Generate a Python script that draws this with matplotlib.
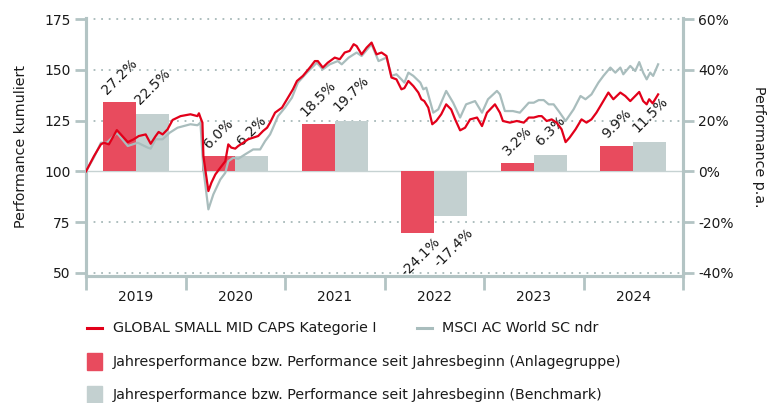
import matplotlib
matplotlib.use("Agg")
import matplotlib.pyplot as plt
from matplotlib.lines import Line2D
from matplotlib.patches import Rectangle
import numpy as np

# ---------------- data ----------------
years = [2019, 2020, 2021, 2022, 2023, 2024]
year_labels = ["2019", "2020", "2021", "2022", "2023", "2024"]
fund_annual = [27.2, 6.0, 18.5, -24.1, 3.2, 9.9]
bench_annual = [22.5, 6.2, 19.7, -17.4, 6.3, 11.5]

fund_t = [2019.00, 2019.08, 2019.15, 2019.18, 2019.23, 2019.31, 2019.35, 2019.42, 2019.48,
          2019.53, 2019.60, 2019.65, 2019.70, 2019.73, 2019.77, 2019.82, 2019.87, 2019.95,
          2020.05, 2020.12, 2020.135, 2020.15, 2020.17, 2020.18, 2020.23, 2020.26, 2020.30,
          2020.35, 2020.40, 2020.43, 2020.46, 2020.50, 2020.53, 2020.58, 2020.63, 2020.68,
          2020.73, 2020.78, 2020.82, 2020.85, 2020.90, 2020.97, 2021.03, 2021.08, 2021.12,
          2021.18, 2021.25, 2021.30, 2021.33, 2021.38, 2021.43, 2021.50, 2021.55, 2021.60,
          2021.65, 2021.69, 2021.72, 2021.77, 2021.82, 2021.87, 2021.92, 2021.97, 2022.02,
          2022.07, 2022.12, 2022.17, 2022.20, 2022.24, 2022.29, 2022.34, 2022.37, 2022.40,
          2022.44, 2022.48, 2022.52, 2022.57, 2022.62, 2022.67, 2022.71, 2022.76, 2022.81,
          2022.86, 2022.93, 2022.98, 2023.03, 2023.11, 2023.16, 2023.19, 2023.26, 2023.33,
          2023.40, 2023.45, 2023.50, 2023.55, 2023.58, 2023.63, 2023.68, 2023.73, 2023.78,
          2023.82, 2023.86, 2023.92, 2023.98, 2024.03, 2024.08, 2024.13, 2024.18, 2024.25,
          2024.30, 2024.37, 2024.42, 2024.47, 2024.52, 2024.56, 2024.60, 2024.635, 2024.66,
          2024.695, 2024.75]
fund_v = [100.0, 107.5, 113.3, 114.1, 113.3, 120.3, 118.2, 114.4, 115.8,
          117.4, 118.2, 113.6, 117.4, 119.4, 118.2, 120.7, 125.3, 127.2,
          128.1, 127.2, 128.6, 126.5, 124.0, 107.5, 90.3, 94.4, 98.5,
          101.8, 105.0, 113.3, 111.7, 111.2, 112.5, 114.1, 115.8, 116.6,
          117.4, 119.9, 121.5, 124.0, 128.9, 131.4, 136.3, 140.4, 144.5,
          147.0, 151.1, 154.3, 154.3, 151.1, 153.5, 156.0, 155.2, 158.5,
          159.3, 162.6, 161.7, 157.6, 160.9, 163.4, 157.6, 158.5, 156.8,
          146.2, 145.3, 140.4, 141.0, 144.5, 142.0, 138.8, 135.5, 134.6,
          131.4, 123.2, 124.8, 128.1, 133.0, 130.5, 125.6, 120.2, 121.5,
          125.6, 126.5, 122.3, 128.9, 133.0, 128.9, 124.8, 124.0, 124.8,
          124.0, 126.5, 126.5, 127.2, 127.2, 124.8, 125.6, 124.0, 120.7,
          114.4, 116.6, 120.7, 125.6, 124.0, 125.6, 128.9, 133.0, 138.8,
          135.5, 138.8, 137.1, 134.6, 137.1, 139.1, 134.6, 133.0, 135.5,
          133.5, 137.9]

bench_t = [2019.00, 2019.08, 2019.15, 2019.21, 2019.31, 2019.42, 2019.52, 2019.62, 2019.65,
           2019.70, 2019.77, 2019.84, 2019.92, 2020.05, 2020.12, 2020.15, 2020.18, 2020.23,
           2020.28, 2020.35, 2020.40, 2020.43, 2020.48, 2020.53, 2020.60, 2020.68, 2020.75,
           2020.80, 2020.85, 2020.88, 2020.93, 2021.00, 2021.07, 2021.13, 2021.22, 2021.32,
           2021.38, 2021.45, 2021.53, 2021.57, 2021.64, 2021.72, 2021.77, 2021.87, 2021.94,
           2022.02, 2022.07, 2022.12, 2022.17, 2022.20, 2022.24, 2022.29, 2022.36, 2022.39,
           2022.42, 2022.49, 2022.54, 2022.62, 2022.69, 2022.76, 2022.82, 2022.91, 2022.98,
           2023.04, 2023.13, 2023.16, 2023.21, 2023.29, 2023.36, 2023.45, 2023.50, 2023.55,
           2023.60, 2023.65, 2023.70, 2023.75, 2023.82, 2023.90, 2023.97, 2024.02, 2024.08,
           2024.15, 2024.20, 2024.27, 2024.32, 2024.37, 2024.40, 2024.47, 2024.52, 2024.56,
           2024.60, 2024.635, 2024.67, 2024.70, 2024.75]
bench_v = [100.0, 106.9, 114.1, 114.1, 119.0, 112.5, 114.1, 111.7, 111.2,
           115.8, 115.8, 119.0, 121.5, 123.2, 122.7, 124.0, 101.0, 81.3,
           88.7, 96.0, 99.3, 105.0, 106.7, 106.2, 108.4, 110.8, 110.8,
           114.9, 118.2, 121.5, 127.2, 131.4, 136.3, 143.7, 148.6, 153.5,
           150.2, 152.7, 154.3, 152.7, 156.0, 158.5, 156.8, 162.6, 154.3,
           156.0, 147.0, 147.8, 145.3, 143.7, 148.6, 147.0, 143.7, 140.4,
           141.2, 128.9, 130.5, 139.6, 133.8, 126.5, 133.0, 134.6, 128.9,
           135.5, 139.6, 137.9, 129.7, 129.7, 128.9, 133.8, 133.8, 135.1,
           135.1, 133.0, 133.0, 129.7, 124.8, 130.5, 137.1, 135.5, 137.9,
           143.7, 147.0, 151.1, 148.6, 151.1, 147.8, 151.9, 149.4, 153.8,
           148.6, 145.3, 148.6, 147.0, 152.7]

# ---------------- style ----------------
RED_LINE = "#e2001a"
RED_BAR = "#e84b5e"
GREY_LINE = "#a9bdbd"
GREY_BAR = "#c3d0d0"
AXIS_GREY = "#b3c4c4"
TXT = "#1a1a1a"
plt.rcParams["font.family"] = ["DejaVu Sans"]
FS_LBL = 10
FS_TICK = 10
FS_LEG = 10.3

fig = plt.figure(figsize=(7.78, 4.03), dpi=100)
ax = fig.add_axes([86/778, 1-276/403, (683-86)/778, (276-18)/403])
ax2 = ax.twinx()

ylo, yhi = 48.5, 175.5
ax.set_ylim(ylo, yhi)
ax2.set_ylim((ylo-100)*0.8, (yhi-100)*0.8)
ax.set_xlim(2019, 2025)

ax2.set_zorder(0)
ax.set_zorder(1)
ax.patch.set_visible(False)

for y in [-40, -20, 20, 40, 60]:
    ax2.axhline(y, color="#a7b9b9", lw=1.3, ls=(0, (1, 3.2)), zorder=0)
ax2.axhline(0, color="#c6d2d2", lw=1.0, zorder=0.5)

bw = 1/3
xs = np.array(years, dtype=float)
ax2.bar(xs + 0.5 - bw/2, fund_annual, width=bw, color=RED_BAR, zorder=1)
ax2.bar(xs + 0.5 + bw/2, bench_annual, width=bw, color=GREY_BAR, zorder=1)

for x, v in zip(xs + 0.5 - bw/2, fund_annual):
    off = 2.0 if v >= 0 else -0.8
    ax2.text(x + (0.0 if v >= 0 else 0.03), v + off, f"{v:.1f}%", rotation=45,
             ha="center", va="bottom" if v >= 0 else "top", fontsize=FS_LBL, color=TXT, zorder=3)
for x, v in zip(xs + 0.5 + bw/2, bench_annual):
    off = 2.8 if v >= 0 else -4.0
    ax2.text(x + (0.0 if v >= 0 else 0.03), v + off, f"{v:.1f}%", rotation=45,
             ha="center", va="bottom" if v >= 0 else "top", fontsize=FS_LBL, color=TXT, zorder=3)

ax.plot(bench_t, bench_v, color=GREY_LINE, lw=1.6, zorder=2)
ax.plot(fund_t, fund_v, color=RED_LINE, lw=1.6, zorder=3)

for a in (ax, ax2):
    a.spines["top"].set_visible(False)
for s in ["left", "right", "bottom"]:
    for a in (ax, ax2):
        a.spines[s].set_color(AXIS_GREY)
        a.spines[s].set_linewidth(2.2)

ax.set_yticks([50, 75, 100, 125, 150, 175])
ax.set_yticklabels(["50", "75", "100", "125", "150", "175"])
ax2.set_yticks([-40, -20, 0, 20, 40, 60])
ax2.set_yticklabels(["-40%", "-20%", "0%", "20%", "40%", "60%"])
ax.tick_params(axis="y", colors=AXIS_GREY, labelcolor=TXT, length=8, width=2, labelsize=FS_TICK, pad=3)
ax2.tick_params(axis="y", colors=AXIS_GREY, labelcolor=TXT, length=8, width=2, labelsize=FS_TICK, pad=3)

ax.set_xticks([2019, 2020, 2021, 2022, 2023, 2024, 2025])
ax.set_xticklabels([])
ax.set_xticks(xs + 0.5, minor=True)
ax.set_xticklabels(year_labels, minor=True)
ax.tick_params(axis="x", which="major", colors=AXIS_GREY, length=10, width=2)
ax.tick_params(axis="x", which="minor", length=0, labelsize=FS_TICK, labelcolor=TXT, pad=10)
ax2.tick_params(axis="x", which="both", length=0)

ax.set_ylabel("Performance kumuliert", fontsize=10.3, color=TXT, labelpad=12)
ax2.set_ylabel("Performance p.a.", fontsize=10.3, color=TXT, rotation=270, labelpad=23)

def fx(px):
    return px / 778
def fy(py):
    return 1 - py / 403

fig.add_artist(Line2D([fx(87), fx(102)], [fy(328), fy(328)], color=RED_LINE, lw=2.2))
fig.text(fx(113), fy(328), "GLOBAL SMALL MID CAPS Kategorie I", fontsize=FS_LEG, va="center", color=TXT)
fig.add_artist(Line2D([fx(417), fx(432)], [fy(328), fy(328)], color=GREY_LINE, lw=2.2))
fig.text(fx(442), fy(328), "MSCI AC World SC ndr", fontsize=FS_LEG, va="center", color=TXT)
fig.add_artist(Rectangle((fx(87), fy(370)), fx(15), 17/403, color=RED_BAR))
fig.text(fx(113), fy(362), "Jahresperformance bzw. Performance seit Jahresbeginn (Anlagegruppe)",
         fontsize=FS_LEG, va="center", color=TXT)
fig.add_artist(Rectangle((fx(87), fy(403)), fx(15), 17/403, color=GREY_BAR))
fig.text(fx(113), fy(395), "Jahresperformance bzw. Performance seit Jahresbeginn (Benchmark)",
         fontsize=FS_LEG, va="center", color=TXT)

fig.savefig("out.png", dpi=100)
